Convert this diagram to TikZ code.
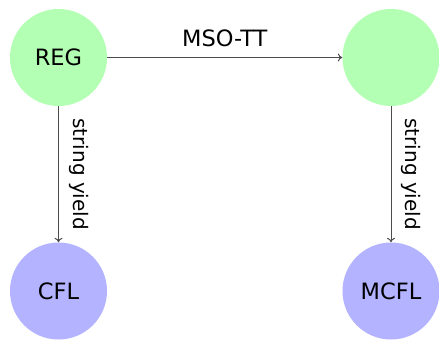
\documentclass[tikz,border=0pt]{standalone}
\usepackage{fontspec}
\setmainfont{DejaVu Sans}
\usetikzlibrary{arrows.meta}
\begin{document}
\begin{tikzpicture}[x=1pt,y=1pt,
  lang/.style={circle, minimum size=97pt, inner sep=0pt, font=\fontsize{22.5}{27}\selectfont},
  regular/.style={lang, fill={rgb,255:red,179;green,255;blue,179}},
  mild/.style={lang, fill={rgb,255:red,179;green,179;blue,255}},
  link/.style={-{To[length=4.5pt,width=8pt]}, line width=1pt, black!70},
  toplabel/.style={font=\fontsize{22.5}{27}\selectfont, text=black, inner sep=10pt},
  sidelabel/.style={font=\fontsize{20}{24}\selectfont, text=black, inner sep=10pt}]
\useasboundingbox (0,0) rectangle (439,-340);
\node[regular] (reg) at (58.5,-57.5) {REG};
\node[regular] (tree) at (391,-57.5) {};
\node[mild] (cfl) at (58.5,-291) {CFL};
\node[mild] (mcfl) at (391,-291) {MCFL};
\draw[link] (reg) -- node[toplabel, above] {MSO-TT} (tree);
\draw[link] (reg) -- node[sidelabel, sloped, above] {string yield} (cfl);
\draw[link] (tree) -- node[sidelabel, sloped, above] {string yield} (mcfl);
\end{tikzpicture}
\end{document}
